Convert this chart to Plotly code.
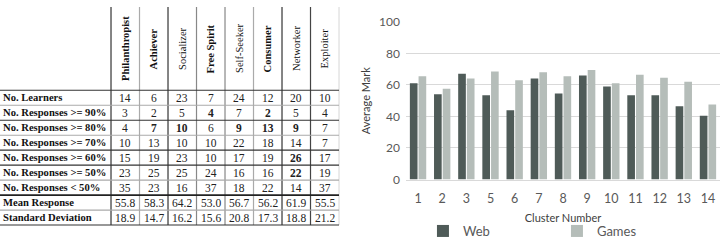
import plotly.graph_objects as go

# ---------------- data ----------------
player_types = ["Philanthropist", "Achiever", "Socializer", "Free Spirit",
                "Self-Seeker", "Consumer", "Networker", "Exploiter"]
row_labels = ["No. Learners", "No. Responses >= 90%", "No. Responses >= 80%",
              "No. Responses >= 70%", "No. Responses >= 60%", "No. Responses >= 50%",
              "No. Responses < 50%", "Mean Response", "Standard Deviation"]
learners = [14, 6, 23, 7, 24, 12, 20, 10]
resp_90 = [3, 2, 5, 4, 7, 2, 5, 4]
resp_80 = [4, 7, 10, 6, 9, 13, 9, 7]
resp_70 = [10, 13, 10, 10, 22, 18, 14, 7]
resp_60 = [15, 19, 23, 10, 17, 19, 26, 17]
resp_50 = [23, 25, 25, 24, 16, 16, 22, 19]
resp_lt50 = [35, 23, 16, 37, 18, 22, 14, 37]
mean_response = ["55.8", "58.3", "64.2", "53.0", "56.7", "56.2", "61.9", "55.5"]
std_deviation = ["18.9", "14.7", "16.2", "15.6", "20.8", "17.3", "18.8", "21.2"]

clusters = ["1", "2", "3", "5", "6", "7", "8", "9", "10", "11", "12", "13", "14"]
web = [61, 54, 67, 53.5, 44, 64, 54.5, 66, 59, 53.5, 53.5, 46.5, 40.5]
games = [65.5, 57.5, 64, 68.5, 63, 68, 65.5, 69.5, 61, 66.5, 64.5, 62, 47.5]

# ---------------- styles ----------------
bold_headers = {"Philanthropist", "Achiever", "Free Spirit", "Consumer"}
bold_cells = {(1, 3), (1, 5), (2, 1), (2, 2), (2, 4), (2, 5), (2, 6), (4, 6), (5, 6)}
vline_style = ["#333", "#aaa", "#333", "#888", "#888", "#aaa", "#333", "#444", "#ddd"]
hline_style = ["#333", "#aaa", "#333", "#aaa", "#333", "#333", "#aaa", "#222", "#aaa", "#333"]
SERIF = "Liberation Serif"
SANS = "Lato"
GRAY = "#595959"

table_rows = [learners, resp_90, resp_80, resp_70, resp_60, resp_50, resp_lt50,
              mean_response, std_deviation]

fig = go.Figure()

# ---------------- bar chart ----------------
fig.add_trace(go.Bar(x=clusters, y=web, name="Web", marker_color="#4f5b58",
                     marker_line_width=0, xaxis="x", yaxis="y"))
fig.add_trace(go.Bar(x=clusters, y=games, name="Games", marker_color="#b5bdb9",
                     marker_line_width=0, xaxis="x", yaxis="y"))

# invisible anchor trace for table axes
fig.add_trace(go.Scatter(x=[0], y=[0], xaxis="x2", yaxis="y2", mode="markers",
                         marker_opacity=0, showlegend=False, hoverinfo="skip"))

annotations = []
shapes = []

n_cols = len(player_types)
n_rows = len(row_labels)
header_top = -6.06
x_left = -4.395
x_right = n_cols - 0.5

# header
for i, name in enumerate(player_types):
    txt = f"<b>{name}</b>" if name in bold_headers else name
    annotations.append(dict(x=i, y=-3.28, xref="x2", yref="y2", text=txt,
                            textangle=-90, showarrow=False,
                            font=dict(family=SERIF, size=10.5, color="#111")))
# row labels + cells
for r, label in enumerate(row_labels):
    annotations.append(dict(x=-4.36, y=r, xref="x2", yref="y2",
                            text=f"<b>{label}</b>", showarrow=False, xanchor="left",
                            font=dict(family=SERIF, size=10.6, color="#111")))
    for c, val in enumerate(table_rows[r]):
        txt = f"<b>{val}</b>" if (r, c) in bold_cells else str(val)
        annotations.append(dict(x=c, y=r, xref="x2", yref="y2", text=txt,
                                showarrow=False,
                                font=dict(family=SERIF, size=11.5, color="#222")))

# grid lines
for k in range(n_cols + 1):
    shapes.append(dict(type="line", xref="x2", yref="y2", x0=k - 0.5, x1=k - 0.5,
                       y0=header_top, y1=n_rows - 0.5,
                       line=dict(color=vline_style[k], width=1.2)))
for k in range(n_rows + 1):
    shapes.append(dict(type="line", xref="x2", yref="y2", x0=x_left, x1=x_right,
                       y0=k - 0.5, y1=k - 0.5,
                       line=dict(color=hline_style[k], width=1.6 if k == 7 else 1.1)))

fig.update_layout(
    width=723, height=246,
    margin=dict(l=0, r=0, t=0, b=0),
    paper_bgcolor="white", plot_bgcolor="white",
    barmode="group", bargap=0.28, bargroupgap=0.12,
    xaxis=dict(domain=[0.5615, 0.9959], anchor="y", type="category",
               showgrid=False, zeroline=False, showline=True, linecolor="#d9d9d9",
               ticks="", ticklabelstandoff=7,
               tickfont=dict(family=SANS, size=12.5, color=GRAY),
               title=dict(text="Cluster Number", standoff=9,
                          font=dict(family=SANS, size=11, color="#404040")),
               automargin=False),
    yaxis=dict(domain=[0.2642, 0.9106], anchor="x", range=[0, 100],
               tickvals=[0, 20, 40, 60, 80, 100],
               showgrid=True, gridcolor="#d9d9d9", zeroline=False,
               ticks="", ticklabelstandoff=5,
               tickfont=dict(family=SANS, size=12, color=GRAY),
               title=dict(text="Average Mark", standoff=6,
                          font=dict(family=SANS, size=11, color="#404040")),
               automargin=False),
    xaxis2=dict(domain=[0, 0.5], anchor="y2", range=[x_left, 8.289],
                visible=False, fixedrange=True),
    yaxis2=dict(domain=[0, 1], anchor="x2", range=[9.765, -6.526],
                visible=False, fixedrange=True),
    legend=dict(orientation="h", x=0.585, y=0.053, xanchor="left", yanchor="middle",
                entrywidth=89, font=dict(family=SANS, size=13, color=GRAY),
                bgcolor="rgba(0,0,0,0)"),
    annotations=annotations,
    shapes=shapes,
)

fig.write_html("out.html")
